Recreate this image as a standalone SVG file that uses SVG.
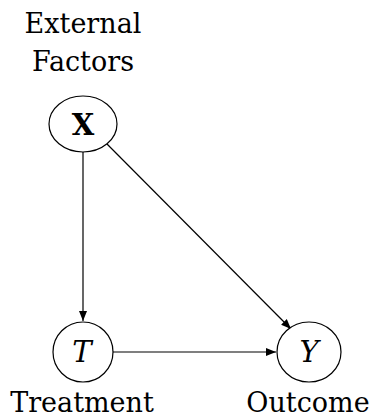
<svg xmlns="http://www.w3.org/2000/svg" width="371" height="419" viewBox="0 0 371 419">
<style>
text{font-family:"DejaVu Serif",serif;fill:#000;text-anchor:middle}
.n{fill:#fff;stroke:#000;stroke-width:1.2}
.t{font-size:27px}
.v{font-size:29px}
.e{stroke:#000;stroke-width:1.2;fill:none;marker-end:url(#a)}
</style>
<defs>
<marker id="a" viewBox="0 0 10 10" refX="10" refY="5" markerWidth="10" markerHeight="10" markerUnits="userSpaceOnUse" orient="auto">
<path d="M0,1 L10,5 L0,9 z" fill="#000"/>
</marker>
</defs>
<g id="edges">
<line class="e" x1="83" y1="152" x2="83" y2="321"/>
<line class="e" x1="107" y1="144" x2="291" y2="329"/>
<line class="e" x1="113" y1="352" x2="276" y2="352"/>
</g>
<g id="nodeX">
<text class="t" x="83" y="33">External</text>
<text class="t" x="83" y="71">Factors</text>
<ellipse class="n" cx="83" cy="124" rx="34" ry="28"/>
<text class="v" x="83" y="135" font-weight="bold">X</text>
</g>
<g id="nodeT">
<ellipse class="n" cx="83" cy="352" rx="30" ry="30"/>
<text class="v" x="82" y="362" font-style="italic">T</text>
<text class="t" x="82" y="412">Treatment</text>
</g>
<g id="nodeY">
<ellipse class="n" cx="309" cy="352" rx="32" ry="30"/>
<text class="v" x="309" y="362" font-style="italic">Y</text>
<text class="t" x="308" y="412">Outcome</text>
</g>
</svg>
